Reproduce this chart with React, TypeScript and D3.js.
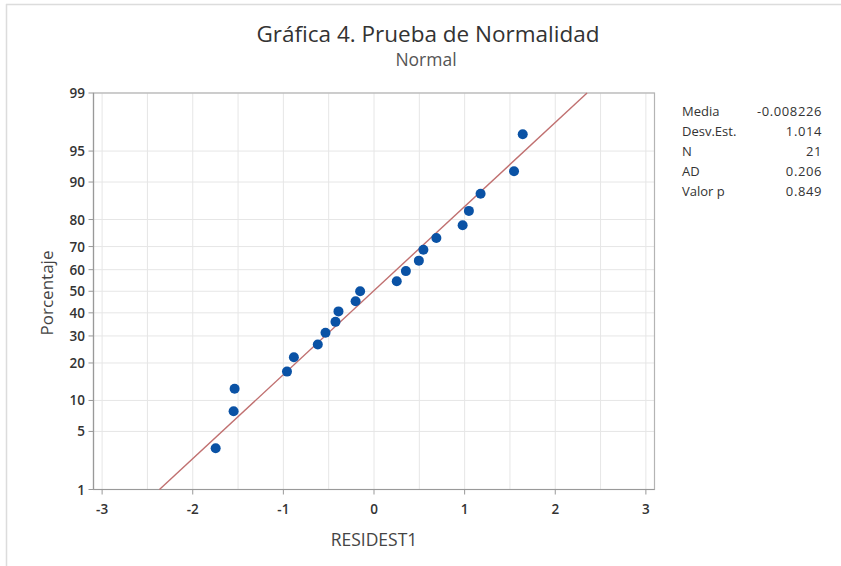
import React from "react";
import * as d3 from "d3";

const residuals = [
  -1.747, -1.549, -1.538, -0.96, -0.884, -0.62, -0.535, -0.425, -0.392, -0.203, -0.153,
  0.251, 0.352, 0.495, 0.545, 0.688, 0.978, 1.047, 1.176, 1.545, 1.641,
];
const yTicks = [1, 5, 10, 20, 30, 40, 50, 60, 70, 80, 90, 95, 99];
const xTicks = [-3, -2, -1, 0, 1, 2, 3];
const xGrid = [-3, -2.5, -2, -1.5, -1, -0.5, 0, 0.5, 1, 1.5, 2, 2.5, 3];
const statLabels = ["Media", "Desv.Est.", "N", "AD", "Valor p"];
const statValues = ["-0.008226", "1.014", "21", "0.206", "0.849"];
const fitMean = -0.008226;
const fitSd = 1.014;

const W = 841;
const H = 566;
const L = 93.5, R = 654.5, T = 93, B = 489.5;
const font = "'Open Sans', 'Noto Sans', sans-serif";

const invNorm = (p: number) => {
  const a = [-39.69683028665376, 220.9460984245205, -275.9285104469687, 138.357751867269, -30.66479806614716, 2.506628277459239];
  const b = [-54.47609879822406, 161.5858368580409, -155.6989798598866, 66.80131188771972, -13.28068155288572];
  const c = [-0.007784894002430293, -0.3223964580411365, -2.400758277161838, -2.549732539343734, 4.374664141464968, 2.938163982698783];
  const dd = [0.007784695709041462, 0.3224671290700398, 2.445134137142996, 3.754408661907416];
  const pl = 0.02425;
  let q, r;
  if (p < pl) {
    q = Math.sqrt(-2 * Math.log(p));
    return (((((c[0] * q + c[1]) * q + c[2]) * q + c[3]) * q + c[4]) * q + c[5]) / ((((dd[0] * q + dd[1]) * q + dd[2]) * q + dd[3]) * q + 1);
  } else if (p <= 1 - pl) {
    q = p - 0.5;
    r = q * q;
    return ((((((a[0] * r + a[1]) * r + a[2]) * r + a[3]) * r + a[4]) * r + a[5]) * q) / (((((b[0] * r + b[1]) * r + b[2]) * r + b[3]) * r + b[4]) * r + 1);
  } else {
    q = Math.sqrt(-2 * Math.log(1 - p));
    return -(((((c[0] * q + c[1]) * q + c[2]) * q + c[3]) * q + c[4]) * q + c[5]) / ((((dd[0] * q + dd[1]) * q + dd[2]) * q + dd[3]) * q + 1);
  }
};

export default function App() {
  const x = d3.scaleLinear().domain([-3.095, 3.095]).range([L, R]);
  const zMax = 2.326348;
  const z = d3.scaleLinear().domain([-zMax, zMax]).range([B, T]);
  const yP = (pct: number) => z(invNorm(pct / 100));
  const n = residuals.length;
  const pts = residuals.map((v, i) => ({ v, p: ((i + 1 - 0.3) / (n + 0.4)) * 100 }));
  const lineX1 = fitMean - zMax * fitSd;
  const lineX2 = fitMean + zMax * fitSd;

  return (
    <svg width={W} height={H} style={{ position: "absolute", left: 0, top: 0, background: "#fff" }} fontFamily={font}>
      <rect x={0} y={0} width={W} height={H} fill="#fff" />
      <line x1={6} y1={4.5} x2={W} y2={4.5} stroke="#dcdcdc" strokeWidth={1.5} />
      <line x1={6.5} y1={4} x2={6.5} y2={H} stroke="#dcdcdc" strokeWidth={1.5} />

      <text x={428} y={42} textAnchor="middle" fontSize={22.5} fill="#333">Gráfica 4. Prueba de Normalidad</text>
      <text x={426} y={66} textAnchor="middle" fontSize={17.5} fill="#555">Normal</text>

      {xGrid.map((g) => (
        <line key={"gx" + g} x1={x(g)} x2={x(g)} y1={T} y2={B} stroke="#e6e6e6" strokeWidth={1} />
      ))}
      {yTicks.map((t) => (
        <line key={"gy" + t} x1={L} x2={R} y1={yP(t)} y2={yP(t)} stroke="#e6e6e6" strokeWidth={1} />
      ))}

      <rect x={L} y={T} width={R - L} height={B - T} fill="none" stroke="#b4b4b4" strokeWidth={1.2} />
      <line x1={L} x2={L} y1={T} y2={B} stroke="#999" strokeWidth={1.2} />
      <line x1={L} x2={R} y1={B} y2={B} stroke="#999" strokeWidth={1.2} />

      {yTicks.map((t) => (
        <g key={"yt" + t}>
          <line x1={L - 5} x2={L} y1={yP(t)} y2={yP(t)} stroke="#999" />
          <text x={85} y={yP(t) + 5} textAnchor="end" fontSize={13.5} fontWeight={600} fill="#333">{t}</text>
        </g>
      ))}
      {xTicks.map((t) => (
        <g key={"xt" + t}>
          <line x1={x(t)} x2={x(t)} y1={B} y2={B + 5} stroke="#999" />
          <text x={x(t)} y={514} textAnchor="middle" fontSize={13.5} fontWeight={600} fill="#333">{t}</text>
        </g>
      ))}

      <text x={374} y={546} textAnchor="middle" fontSize={17.5} fill="#444">RESIDEST1</text>
      <text transform={`translate(53,293) rotate(-90)`} textAnchor="middle" fontSize={17} fill="#444">Porcentaje</text>

      <line x1={x(lineX1)} y1={z(-zMax)} x2={x(lineX2)} y2={z(zMax)} stroke="#c07070" strokeWidth={1.4} />

      {pts.map((d, i) => (
        <circle key={i} cx={x(d.v)} cy={yP(d.p)} r={5} fill="#0a52a5" />
      ))}

      {statLabels.map((s, i) => (
        <g key={s}>
          <text x={682} y={115.5 + i * 20} fontSize={13} fill="#333">{s}</text>
          <text x={822} y={115.5 + i * 20} textAnchor="end" fontSize={13} letterSpacing={0.6} fill="#333">{statValues[i]}</text>
        </g>
      ))}
    </svg>
  );
}
